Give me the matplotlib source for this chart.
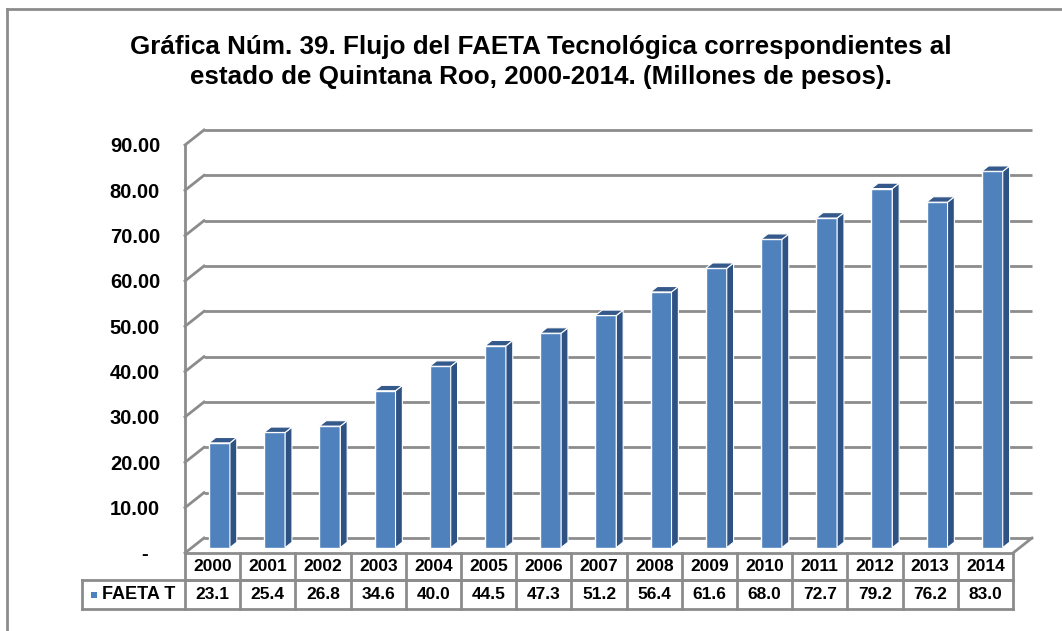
import matplotlib.pyplot as plt
import matplotlib.lines as mlines
from matplotlib.patches import Polygon, Rectangle

plt.rcParams['font.family'] = ['Liberation Sans', 'DejaVu Sans']
plt.rcParams['font.weight'] = 'bold'

years = ['2000', '2001', '2002', '2003', '2004', '2005', '2006', '2007',
         '2008', '2009', '2010', '2011', '2012', '2013', '2014']
faeta_t = [23.1, 25.4, 26.8, 34.6, 40.0, 44.5, 47.3, 51.2,
           56.4, 61.6, 68.0, 72.7, 79.2, 76.2, 83.0]
ticks = [0, 10, 20, 30, 40, 50, 60, 70, 80, 90]
tick_labels = ['-  '] + ['%.2f' % t for t in ticks[1:]]
series_name = 'FAETA T'
title = ('Gráfica Núm. 39. Flujo del FAETA Tecnológica correspondientes al\n'
         'estado de Quintana Roo, 2000-2014. (Millones de pesos).')

W, H = 1062, 631
fig = plt.figure(figsize=(W / 100, H / 100), dpi=100)

# front plane of the plot area, in pixels
x0, x1 = 185, 1013
y0, y1 = 553, 145
ax = fig.add_axes([x0 / W, 1 - y0 / H, (x1 - x0) / W, (y0 - y1) / H])
n = len(years)
ax.set_xlim(-0.5, n - 0.5)
ax.set_ylim(0, 90)
for s in ax.spines.values():
    s.set_visible(False)
ax.set_xticks([])
ax.set_yticks(ticks)
ax.set_yticklabels(tick_labels, fontsize=14.5, fontweight='bold')
ax.tick_params(axis='y', length=0, pad=18)

px_x = (x1 - x0) / n
px_y = (y0 - y1) / 90
DX = 19 / px_x     # depth offset, category units
DY = 15 / px_y     # depth offset, value units

grid = '#8c8c8c'
left = -0.5
right = n - 0.5

# back wall gridlines and left wall diagonals
for t in ticks:
    ax.plot([left + DX, right + DX], [t + DY, t + DY], color=grid, lw=2,
            clip_on=False, zorder=1, solid_capstyle='butt')
    ax.plot([left, left + DX], [t, t + DY], color=grid, lw=2,
            clip_on=False, zorder=1)
ax.plot([left, left], [0, 90], color=grid, lw=2, clip_on=False, zorder=1)
# floor edges
ax.plot([right, right + DX], [0, DY], color=grid, lw=2, clip_on=False, zorder=1)
ax.plot([left, right], [0, 0], color=grid, lw=2, clip_on=False, zorder=1)

# 3D bars
front_c = '#4f81bd'
side_c = '#2f5285'
top_c = '#35598b'
bw = 0.38
f1, f2 = 0.36, 0.72
for i, v in enumerate(faeta_t):
    xa = i - bw / 2 + f1 * DX
    ya = f1 * DY
    ddx = (f2 - f1) * DX
    ddy = (f2 - f1) * DY
    ax.add_patch(Rectangle((xa, ya), bw, v, facecolor=front_c,
                           edgecolor='white', lw=1, zorder=3, clip_on=False))
    ax.add_patch(Polygon([(xa + bw, ya), (xa + bw + ddx, ya + ddy),
                          (xa + bw + ddx, ya + v + ddy), (xa + bw, ya + v)],
                         facecolor=side_c, edgecolor='white', lw=0.8,
                         zorder=3, clip_on=False))
    ax.add_patch(Polygon([(xa, ya + v), (xa + bw, ya + v),
                          (xa + bw + ddx, ya + v + ddy), (xa + ddx, ya + v + ddy)],
                         facecolor=top_c, edgecolor='white', lw=0.8,
                         zorder=3, clip_on=False))

# data table under the plot
r1 = -27 / px_y
r2 = -56 / px_y
leg_x = left - (x0 - 82) / px_x
tk = dict(color=grid, lw=2, clip_on=False, zorder=2)
ax.plot([left, right], [r1, r1], **tk)
ax.plot([leg_x, right], [r1, r1], **tk)
ax.plot([leg_x, right], [r2, r2], **tk)
ax.plot([leg_x, leg_x], [r1, r2], **tk)
for k in range(n + 1):
    ax.plot([k - 0.5, k - 0.5], [0, r2], **tk)
for i in range(n):
    ax.text(i, r1 / 2, years[i], ha='center', va='center', fontsize=12.5,
            fontweight='bold', clip_on=False)
    ax.text(i, (r1 + r2) / 2, '%.1f' % faeta_t[i], ha='center', va='center',
            fontsize=12.5, fontweight='bold', clip_on=False)
sq = 6 / px_x
ax.add_patch(Rectangle((leg_x + 9 / px_x, (r1 + r2) / 2 - 3 / px_y), sq, 6 / px_y,
                       facecolor=front_c, edgecolor='none', clip_on=False))
ax.text(leg_x + 20 / px_x, (r1 + r2) / 2, series_name, ha='left', va='center',
        fontsize=13, fontweight='bold', clip_on=False)

fig.text(541 / W, 1 - 62 / H, title, ha='center', va='center', fontsize=18.7,
         fontweight='bold', linespacing=1.32)

# chart area border
fig.add_artist(mlines.Line2D([7 / W, 7 / W], [0, 1 - 9 / H], color=grid, lw=2))
fig.add_artist(mlines.Line2D([7 / W, 1], [1 - 9 / H, 1 - 9 / H], color=grid, lw=2))

fig.savefig('out.png', dpi=100)
